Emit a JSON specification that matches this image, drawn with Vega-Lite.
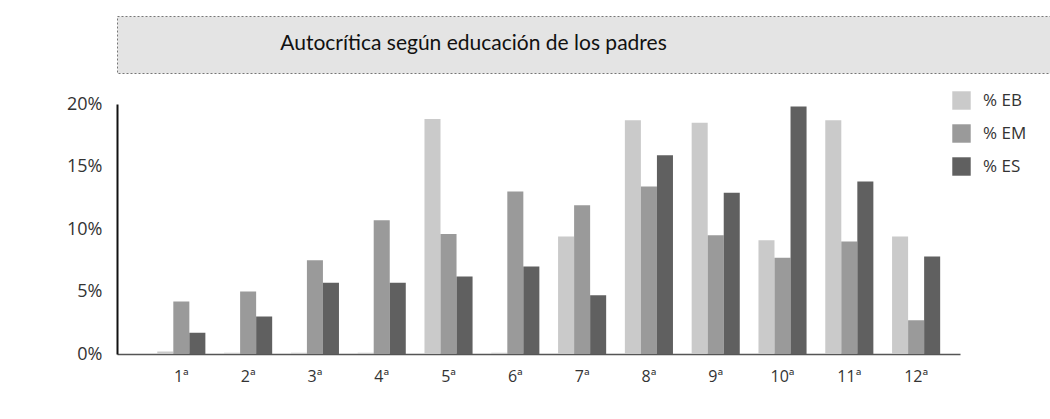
{
  "$schema": "https://vega.github.io/schema/vega-lite/v6.json",
  "padding": {"left": 10, "top": 15, "right": 0, "bottom": 0},
  "background": "white",
  "columns": 1,
  "align": "none",
  "spacing": 21,
  "config": {
    "font": "Open Sans"
  },
  "concat": [
    {
      "width": 933,
      "height": 57,
      "view": {"fill": "#e4e4e4", "stroke": "#777", "strokeDash": [2, 2], "strokeWidth": 1},
      "data": {"values": [{"t": "Autocrítica según educación de los padres"}]},
      "mark": {"type": "text", "font": "Lato", "fontSize": 21, "color": "#111", "dx": -110, "dy": -1},
      "encoding": {"text": {"field": "t", "type": "nominal"}}
    },
    {
      "width": 843,
      "height": 250,
      "view": {"stroke": null},
      "data": {
        "values": [
          {"grado": "1ª", "nivel": "% EB", "valor": 0.002},
          {"grado": "1ª", "nivel": "% EM", "valor": 0.042},
          {"grado": "1ª", "nivel": "% ES", "valor": 0.017},
          {"grado": "2ª", "nivel": "% EB", "valor": 0.001},
          {"grado": "2ª", "nivel": "% EM", "valor": 0.050},
          {"grado": "2ª", "nivel": "% ES", "valor": 0.030},
          {"grado": "3ª", "nivel": "% EB", "valor": 0.001},
          {"grado": "3ª", "nivel": "% EM", "valor": 0.075},
          {"grado": "3ª", "nivel": "% ES", "valor": 0.057},
          {"grado": "4ª", "nivel": "% EB", "valor": 0.001},
          {"grado": "4ª", "nivel": "% EM", "valor": 0.107},
          {"grado": "4ª", "nivel": "% ES", "valor": 0.057},
          {"grado": "5ª", "nivel": "% EB", "valor": 0.188},
          {"grado": "5ª", "nivel": "% EM", "valor": 0.096},
          {"grado": "5ª", "nivel": "% ES", "valor": 0.062},
          {"grado": "6ª", "nivel": "% EB", "valor": 0.001},
          {"grado": "6ª", "nivel": "% EM", "valor": 0.130},
          {"grado": "6ª", "nivel": "% ES", "valor": 0.070},
          {"grado": "7ª", "nivel": "% EB", "valor": 0.094},
          {"grado": "7ª", "nivel": "% EM", "valor": 0.119},
          {"grado": "7ª", "nivel": "% ES", "valor": 0.047},
          {"grado": "8ª", "nivel": "% EB", "valor": 0.187},
          {"grado": "8ª", "nivel": "% EM", "valor": 0.134},
          {"grado": "8ª", "nivel": "% ES", "valor": 0.159},
          {"grado": "9ª", "nivel": "% EB", "valor": 0.185},
          {"grado": "9ª", "nivel": "% EM", "valor": 0.095},
          {"grado": "9ª", "nivel": "% ES", "valor": 0.129},
          {"grado": "10ª", "nivel": "% EB", "valor": 0.091},
          {"grado": "10ª", "nivel": "% EM", "valor": 0.077},
          {"grado": "10ª", "nivel": "% ES", "valor": 0.198},
          {"grado": "11ª", "nivel": "% EB", "valor": 0.187},
          {"grado": "11ª", "nivel": "% EM", "valor": 0.090},
          {"grado": "11ª", "nivel": "% ES", "valor": 0.138},
          {"grado": "12ª", "nivel": "% EB", "valor": 0.094},
          {"grado": "12ª", "nivel": "% EM", "valor": 0.027},
          {"grado": "12ª", "nivel": "% ES", "valor": 0.078}
        ]
      },
      "mark": {"type": "bar"},
      "encoding": {
        "x": {
          "field": "grado",
          "type": "nominal",
          "sort": ["1ª", "2ª", "3ª", "4ª", "5ª", "6ª", "7ª", "8ª", "9ª", "10ª", "11ª", "12ª"],
          "scale": {"paddingInner": 0.28, "paddingOuter": 0.45, "align": 0.67},
          "axis": {
            "title": null,
            "labelAngle": 0,
            "ticks": false,
            "labelPadding": 14,
            "labelFontSize": 16,
            "labelColor": "#333",
            "labelFont": "Open Sans",
            "domainColor": "#555",
            "domainWidth": 1.5
          }
        },
        "xOffset": {
          "field": "nivel",
          "type": "nominal",
          "scale": {"paddingInner": 0, "paddingOuter": 0}
        },
        "y": {
          "field": "valor",
          "type": "quantitative",
          "scale": {"domain": [0, 0.2], "nice": false},
          "axis": {
            "title": null,
            "values": [0, 0.05, 0.1, 0.15, 0.2],
            "format": ".0%",
            "grid": false,
            "ticks": false,
            "labelPadding": 15,
            "labelFontSize": 18,
            "labelColor": "#333",
            "labelFont": "Open Sans",
            "domainColor": "#111",
            "domainWidth": 2,
            "minExtent": 107
          }
        },
        "color": {
          "field": "nivel",
          "type": "nominal",
          "scale": {"domain": ["% EB", "% EM", "% ES"], "range": ["#cacaca", "#9a9a9a", "#606060"]},
          "legend": {
            "title": null,
            "orient": "none",
            "legendX": 835,
            "legendY": 75,
            "symbolType": "square",
            "symbolSize": 340,
            "symbolStrokeWidth": 0,
            "labelFontSize": 17,
            "labelColor": "#333",
            "labelFont": "Open Sans",
            "labelOffset": 12,
            "rowPadding": 14
          }
        }
      }
    }
  ]
}
